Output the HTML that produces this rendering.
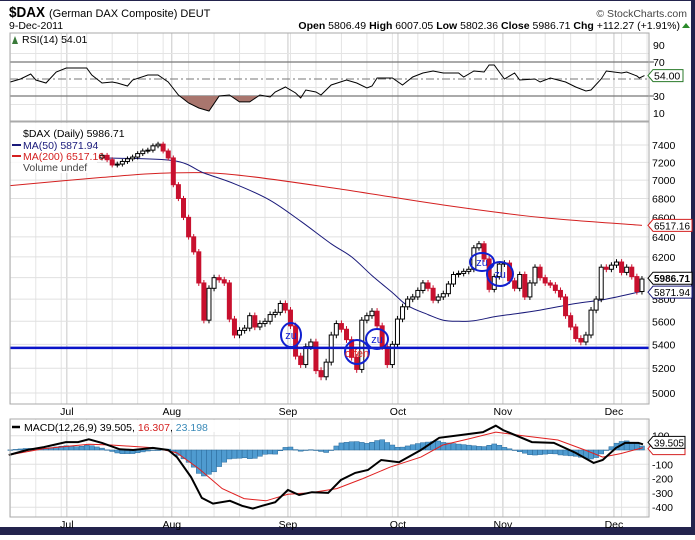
<!DOCTYPE html>
<html><head><meta charset="utf-8">
<style>
html,body{margin:0;padding:0;background:#fff;}
body{width:695px;height:535px;overflow:hidden;position:relative;font-family:"Liberation Sans",sans-serif;}
svg text{font-family:"Liberation Sans",sans-serif;}
</style></head>
<body>
<svg id="chart" width="695" height="535" viewBox="0 0 695 535" xmlns="http://www.w3.org/2000/svg">
  <rect x="0" y="0" width="695" height="535" fill="#fff"/>
  <rect x="691" y="0" width="4" height="535" fill="#23234d"/>
  <rect x="0" y="527" width="695" height="8" fill="#23234d"/>
  <rect x="0" y="0" width="695" height="1" fill="#23234d"/>
  <text x="9" y="17" font-size="15" font-weight="bold" fill="#000" textLength="36" lengthAdjust="spacingAndGlyphs">$DAX</text>
  <text x="49" y="17" font-size="11" fill="#000">(German DAX Composite) DEUT</text>
  <text x="687" y="17" font-size="10.5" fill="#444" text-anchor="end">© StockCharts.com</text>
  <text x="9" y="29" font-size="10.5" fill="#000">9-Dec-2011</text>
  <text x="680" y="29" font-size="10.5" fill="#000" text-anchor="end"><tspan font-weight="bold">Open</tspan> 5806.49 <tspan font-weight="bold">High</tspan> 6007.05 <tspan font-weight="bold">Low</tspan> 5802.36 <tspan font-weight="bold">Close</tspan> 5986.71 <tspan font-weight="bold">Chg</tspan> +112.27 (+1.91%)</text>
  <path d="M682 28 L686 23 L690 28 Z" fill="#2a8a2a"/>
  <g id="rsi"></g>
  <g id="price"></g>
  <g id="macd"></g>
</svg>
<script>
// ---------- data ----------
var closes = [7280,7230,7170,7180,7210,7240,7260,7300,7330,7340,7390,7410,7330,7250,
 6950,6800,6600,6400,6250,5950,5610,5900,6000,5980,5950,5620,5480,5520,5540,5650,
 5550,5580,5600,5660,5680,5760,5700,5560,5300,5230,5380,5420,5180,5130,5250,5480,
 5580,5530,5440,5290,5190,5610,5650,5690,5560,5380,5230,5400,5620,5730,5800,5820,
 5880,5950,5900,5790,5820,5850,5940,6030,6040,6060,6080,6290,6330,6180,5890,6010,
 6130,6140,5970,5900,6030,5820,5950,6100,6000,5950,5930,5880,5820,5650,5550,5450,
 5420,5480,5700,5800,6100,6080,6120,6150,6050,6100,6010,5870,5987];
var firstOpen = 7250;
var ma50Days = [0,14,20,26,33,39,45,49,53,57,60,64,67,70,73,77,80,86,93,99,106];
var ma50 = [7250,7220,7080,6960,6780,6560,6330,6200,6020,5860,5740,5660,5610,5600,5605,5640,5660,5700,5760,5800,5872];
var ma200Days = [-18,0,13,26,47,67,86,106];
var ma200 = [6940,7030,7080,7060,6900,6730,6600,6517];
var supportLevel = 5370;
var priceTicks = [5000,5200,5400,5600,5800,6000,6200,6400,6600,6800,7000,7200,7400];

var rsiDays = [-18,-16,-14,-13,-11,-9,-7,-3,-2,0,2,3,5,6,9,11,13,15,17,19,21,23,25,27,29,31,33,34,36,38,39,40,42,43,45,48,50,52,53,54,57,59,61,63,65,67,70,71,73,75,76,77,79,81,82,85,86,88,91,93,95,96,98,99,102,103,105,105.5,106.5];
var rsiVals = [46.5,50,55.9,48.8,45.3,58.2,62.9,62.9,54.7,45.3,46.5,45.3,41.8,48.8,54.7,54.7,46.5,31.2,21.8,15.9,12.4,30,31.2,23,23,31.2,28.8,34.7,40.6,33.5,27.7,37.1,34.7,31.2,43,48.8,45.3,39.4,41.8,51.2,51.2,43,52.4,57.1,59.4,57.1,57.1,52.4,59.4,58.2,66.5,66.5,50,57.1,48.8,50,46.5,51.2,46.5,40.6,35.9,37.1,50,59.4,57.1,58.2,53.5,51.2,54];
var rsiTicks = [10,30,70,90];

var macdDays = [-18.3,-14.7,-11.4,-7.1,-4.7,-2.6,0,3.5,6.1,10,13,14.7,17.5,19.6,21.8,25.1,27.5,29.6,31.4,34,36.5,38.7,41.2,44.4,46.9,49.7,52.2,54.8,58.3,62.6,66.2,70.5,74.8,77.3,78.7,84.4,88.7,93,96.5,98.3,100.9,102.7,105.3,106.2];
var macdVals = [-35,0,20,55,55,75,50,5,0,15,0,-50,-190,-335,-375,-355,-390,-410,-390,-365,-280,-315,-295,-300,-210,-160,-140,-70,-85,0,85,105,125,170,140,55,50,-20,-90,-70,15,50,50,40];
var sigDays = [-18.3,-11.4,-2.6,1.8,10.4,14.7,19,23.6,27.9,32.2,36.5,40.8,46.1,51.2,56.5,62.6,66.9,72.2,77.3,82.6,89.5,94.8,98.3,101.8,106.2];
var sigVals = [-35,10,40,35,15,-20,-130,-270,-340,-355,-310,-300,-270,-200,-120,-50,35,80,125,100,70,0,-50,-25,16];
var macdTicks = [-400,-300,-200,-100,100];

var monthLabels = ["Jul","Aug","Sep","Oct","Nov","Dec"];
var monthDays = [-6.9,13.7,36.5,58.1,78.7,100.5];

// ---------- scales ----------
var L=10, R=649;
function xd(d){return 102 + d*5.094;}
function yP(p){return 393 - 632.6*Math.log(p/5000);}
function yR(v){return 62 + (70-v)*0.85;}
function yM(v){return 450 - v*0.143;}
var NS="http://www.w3.org/2000/svg";
function mk(parent,tag,attrs){var e=document.createElementNS(NS,tag);for(var k in attrs)e.setAttribute(k,attrs[k]);parent.appendChild(e);return e;}
function interp(days,vals,d){
  if(d<=days[0])return vals[0];
  for(var i=1;i<days.length;i++){if(d<=days[i]){var t=(d-days[i-1])/(days[i]-days[i-1]);return vals[i-1]+t*(vals[i]-vals[i-1]);}}
  return vals[vals.length-1];
}
function pathOf(days,vals,fy){var s="";for(var i=0;i<days.length;i++){s+=(i?"L":"M")+xd(days[i]).toFixed(1)+" "+fy(vals[i]).toFixed(1);}return s;}
function smoothOf(days,vals,fy){
  var p=days.map(function(d,i){return [xd(d),fy(vals[i])];});
  var s="M"+p[0][0].toFixed(1)+" "+p[0][1].toFixed(1);
  for(var i=0;i<p.length-1;i++){
    var a=p[Math.max(0,i-1)],b=p[i],c=p[i+1],d=p[Math.min(p.length-1,i+2)];
    s+="C"+(b[0]+(c[0]-a[0])/6).toFixed(1)+" "+(b[1]+(c[1]-a[1])/6).toFixed(1)+" "+(c[0]-(d[0]-b[0])/6).toFixed(1)+" "+(c[1]-(d[1]-b[1])/6).toFixed(1)+" "+c[0].toFixed(1)+" "+c[1].toFixed(1);
  }
  return s;
}
function vGrid(g,top,bot){
  for(var d=-18;d<=107;d+=5){var e=mk(g,"line",{x1:xd(d),x2:xd(d),y1:top,y2:bot,stroke:"#e4e4e4","stroke-width":1});
  
  }
  monthDays.forEach(function(m){var e=mk(g,"line",{x1:xd(m),x2:xd(m),y1:top,y2:bot,stroke:"#c8c8c8","stroke-width":1});
  
  });
}

// ---------- RSI ----------
(function(){
var g=document.getElementById("rsi");
var top=33,bot=121;
vGrid(g,top,bot);
[20,40,60,80].forEach(function(v){var e=mk(g,"line",{x1:L,x2:R,y1:yR(v),y2:yR(v),stroke:"#e4e4e4"});

});
rsiTicks.forEach(function(v){
  var t=mk(g,"text",{x:653,y:yR(v)+4,"font-size":10.5,fill:"#000"});t.textContent=v;
  
  
});
[30,70].forEach(function(v){var e=mk(g,"line",{x1:L,x2:R+5,y1:yR(v),y2:yR(v),stroke:"#777","stroke-width":1.2});

});
var c=mk(g,"line",{x1:L,x2:R,y1:yR(50),y2:yR(50),stroke:"#777","stroke-dasharray":"8 3 2 3"});


var fillPts=[];
for(var d=rsiDays[0];d<=rsiDays[rsiDays.length-1];d+=0.25){var v=interp(rsiDays,rsiVals,d);fillPts.push([xd(d),yR(Math.min(v,30))]);}
var fp="M"+xd(rsiDays[0])+" "+yR(30);fillPts.forEach(function(p){fp+="L"+p[0].toFixed(1)+" "+p[1].toFixed(1);});fp+="L"+xd(rsiDays[rsiDays.length-1])+" "+yR(30)+"Z";
var f=mk(g,"path",{d:fp,fill:"#a9766e",stroke:"none"});


var ln=mk(g,"path",{d:pathOf(rsiDays,rsiVals,yR),fill:"none",stroke:"#000","stroke-width":1});


var fr=mk(g,"rect",{x:L,y:top,width:R-L,height:bot-top,fill:"none",stroke:"#aaa"});


var lg=mk(g,"text",{x:22,y:43,"font-size":10.5,fill:"#000"});lg.textContent="RSI(14) 54.01";


var ic=mk(g,"path",{d:"M12 44 L15 36 L18 44 Z",fill:"#3a7a3a"});


var last=rsiVals[rsiVals.length-1],ly=yR(last);
var bx=mk(g,"path",{d:"M648 "+ly+" L653 "+(ly-6)+" L683 "+(ly-6)+" L683 "+(ly+6)+" L653 "+(ly+6)+" Z",fill:"#fff",stroke:"#2a7a2a"});


var bt=mk(g,"text",{x:654,y:ly+4,"font-size":10.5,fill:"#000"});bt.textContent=last.toFixed(2);


})();

// ---------- PRICE ----------
(function(){
var g=document.getElementById("price");
var top=122,bot=404;
vGrid(g,top,bot);
priceTicks.forEach(function(p){
  var e=mk(g,"line",{x1:L,x2:R,y1:yP(p),y2:yP(p),stroke:"#e0e0e0"});
  
  
  var t=mk(g,"text",{x:652,y:yP(p)+4,"font-size":10.5,fill:"#000"});t.textContent=p;
  
  
});
var m2=mk(g,"path",{d:smoothOf(ma200Days,ma200,yP),fill:"none",stroke:"#d42020","stroke-width":1});


var m5=mk(g,"path",{d:smoothOf(ma50Days,ma50,yP),fill:"none",stroke:"#1a1a7a","stroke-width":1});


var wick=28;
for(var i=0;i<closes.length;i++){
  var o=i?closes[i-1]:firstOpen,c=closes[i];
  var hi=Math.max(o,c)+wick,lo=Math.min(o,c)-wick;
  var x=xd(i);
  var col=c<o?"#c8102e":"#000";
  var w=mk(g,"line",{x1:x,x2:x,y1:yP(hi),y2:yP(lo),stroke:col,"stroke-width":1});
  
  
  var yt=yP(Math.max(o,c)),yb=yP(Math.min(o,c));
  var b=mk(g,"rect",{x:x-2,y:yt,width:4,height:Math.max(1,yb-yt),fill:c<o?col:"#fff",stroke:col,"stroke-width":1});
  
  
}
var sl=mk(g,"line",{x1:L,x2:R,y1:yP(supportLevel),y2:yP(supportLevel),stroke:"#0a14c8","stroke-width":2.5});


var fr=mk(g,"rect",{x:L,y:top,width:R-L,height:bot-top,fill:"none",stroke:"#aaa"});


var lbg=mk(g,"rect",{x:11,y:123,width:86,height:50,fill:"#fff","fill-opacity":0.8});


var leg=[["$DAX (Daily) 5986.71","#000",137],["MA(50) 5871.94","#1a1a7a",149],["MA(200) 6517.16","#d42020",160],["Volume undef","#444",171]];
leg.forEach(function(l,k){
  var t=mk(g,"text",{x:23,y:l[2],"font-size":10.5,fill:l[1]});t.textContent=l[0];
  
  
  if(k==1||k==2){var s=mk(g,"line",{x1:12,x2:21,y1:l[2]-4,y2:l[2]-4,stroke:l[1],"stroke-width":2});
  
  }
});
function box(val,txt,color,bold,name){
  var y=yP(val);
  var p=mk(g,"path",{d:"M648 "+y+" L653 "+(y-6)+" L692 "+(y-6)+" L692 "+(y+6)+" L653 "+(y+6)+" Z",fill:"#fff",stroke:color});
  
  
  var t=mk(g,"text",{x:654,y:y+4,"font-size":10.5,fill:"#000","font-weight":bold?"bold":"normal",textLength:36,lengthAdjust:"spacingAndGlyphs"});t.textContent=txt;
  
  
}
box(ma200[ma200.length-1],"6517.16","#d42020",false,"ma200-value");
box(ma50[ma50.length-1]-8,"5871.94","#1a1a7a",false,"ma50-value");
box(closes[closes.length-1]+8,"5986.71","#000",true,"close-value");
var ann=[[291,335,10,12,"zu"],[377,339,11,10,"zu"],[482,262,12,9,"zu"],[500,274,13,12,"zu"],[357,352,12,12,""]];
ann.forEach(function(a){
  var e=mk(g,"ellipse",{cx:a[0],cy:a[1],rx:a[2],ry:a[3],fill:"none",stroke:"#1020d0","stroke-width":2});
  
  
  if(a[4]){var t=mk(g,"text",{x:a[0],y:a[1]+4,"font-size":11,fill:"#1020d0","text-anchor":"middle"});t.textContent=a[4];
  
  }
});
var of=mk(g,"text",{x:357,y:357,"font-size":11,fill:"#e02020","text-anchor":"middle"});of.textContent="offen";


monthLabels.forEach(function(m,k){
  var t=mk(g,"text",{x:xd(monthDays[k]),y:415,"font-size":10.5,fill:"#000","text-anchor":"middle"});t.textContent=m;
  
  
});
})();

// ---------- MACD ----------
(function(){
var g=document.getElementById("macd");
var top=419,bot=517;
vGrid(g,top,bot);
[-400,-300,-200,-100,0,100].forEach(function(v){var e=mk(g,"line",{x1:L,x2:R,y1:yM(v),y2:yM(v),stroke:"#e0e0e0"});

});
for(var d=-18;d<=106;d++){
  var h=interp(macdDays,macdVals,d)-interp(sigDays,sigVals,d);
  var y0=yM(0),y1=yM(h);
  var r=mk(g,"rect",{x:xd(d)-2.5,y:Math.min(y0,y1),width:5,height:Math.max(0.5,Math.abs(y1-y0)),fill:"#4f9bd0",stroke:"#2a6a9a","stroke-width":0.5});
  
  
}
var s=mk(g,"path",{d:pathOf(sigDays,sigVals,yM),fill:"none",stroke:"#e02020","stroke-width":1});


var m=mk(g,"path",{d:pathOf(macdDays,macdVals,yM),fill:"none",stroke:"#000","stroke-width":2});


var fr=mk(g,"rect",{x:L,y:top,width:R-L,height:bot-top,fill:"none",stroke:"#aaa"});


macdTicks.forEach(function(v){
  var t=mk(g,"text",{x:652,y:yM(v)+4,"font-size":10.5,fill:"#000"});t.textContent=v;
  
  
});
var ry=yM(16.3);
var rb=mk(g,"path",{d:"M648 "+(ry+1)+" L653 "+(ry-5)+" L685 "+(ry-5)+" L685 "+(ry+7)+" L653 "+(ry+7)+" Z",fill:"#fff",stroke:"#d42020"});


var my=yM(39.5)-2;
var mb=mk(g,"path",{d:"M648 "+my+" L653 "+(my-6)+" L685 "+(my-6)+" L685 "+(my+6)+" L653 "+(my+6)+" Z",fill:"#fff",stroke:"#000"});


var mt=mk(g,"text",{x:654,y:my+4,"font-size":10.5,fill:"#000",textLength:30,lengthAdjust:"spacingAndGlyphs"});mt.textContent="39.505";


var lgb=mk(g,"rect",{x:11,y:420,width:236,height:12,fill:"#fff","fill-opacity":0.85});


var sw=mk(g,"line",{x1:12,x2:20,y1:427,y2:427,stroke:"#000","stroke-width":2.5});


var lt=mk(g,"text",{x:24,y:431,"font-size":10.5,fill:"#000"});
lt.innerHTML='MACD(12,26,9) 39.505, <tspan fill="#d42020">16.307</tspan>, <tspan fill="#3a8ab8">23.198</tspan>';


monthLabels.forEach(function(mn,k){
  var t=mk(g,"text",{x:xd(monthDays[k]),y:528,"font-size":10.5,fill:"#000","text-anchor":"middle"});t.textContent=mn;
  
  
});
})();
</script>
</body></html>
